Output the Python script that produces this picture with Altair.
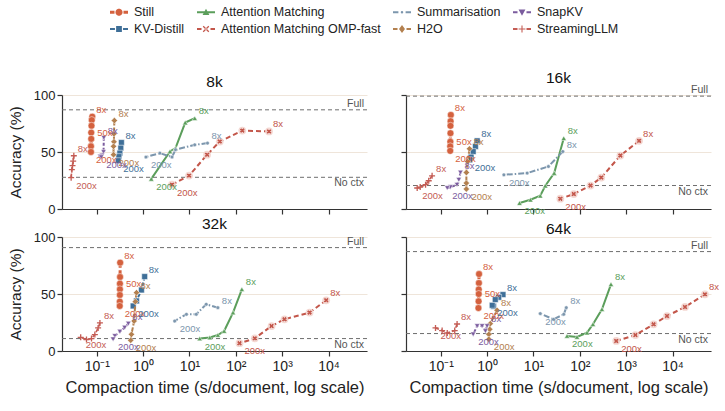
import math
import altair as alt
import pandas as pd

# ---------------- data ----------------
PANELS = ["8k", "16k", "32k", "64k"]
SERIES = ["Still", "KV-Distill", "Attention Matching", "Attention Matching OMP-fast",
          "Summarisation", "H2O", "SnapKV", "StreamingLLM"]

FULL = [87, 99, 90.7, 87.2]
NO_CTX = [27.8, 20.6, 10.9, 15.3]
STILL_50X_INDEX = [3, 4, 2, 3]

# (compaction time in s/document, accuracy %), ordered from 8x to 200x
still_8k = ([0.080, 0.078, 0.077, 0.076, 0.076, 0.075, 0.075], [81, 78, 73, 67, 61.5, 55, 50])
kvdistill_8k = ([0.34, 0.33, 0.315, 0.30, 0.29], [58.3, 53.4, 49, 46, 42.4])
am_8k = ([13, 8.1, 5, 3.8, 1.5], [79.6, 75.8, 53.4, 50.5, 26.4])
omp_8k = ([520, 138, 45, 24, 9.8, 4.2], [68, 68.8, 59.2, 47.6, 29.3, 21.4])
summ_8k = ([24.5, 13, 5, 4.2, 2.3, 1.15], [57.8, 56.3, 52, 45.6, 49, 45.6])
h2o_8k = ([0.24, 0.235, 0.235, 0.23, 0.23], [77.6, 66, 59, 55, 47.6])
snapkv_8k = ([0.142, 0.14, 0.13, 0.118, 0.125], [62.5, 50, 47, 46, 45.5])
streaming_8k = ([0.032, 0.031, 0.030, 0.029, 0.028], [46.7, 42, 38, 34.5, 27.5])

still_16k = ([0.165, 0.163, 0.162, 0.162, 0.161, 0.160, 0.160], [82.5, 77, 73, 66.5, 59, 55, 51])
kvdistill_16k = ([0.61, 0.56, 0.50, 0.45, 0.42], [59.8, 54.8, 50.4, 45.5, 43.1])
am_16k = ([45, 28, 18, 14, 8.6, 5], [62.1, 31.5, 20.4, 11.6, 8.1, 5.2])
omp_16k = ([1900, 750, 290, 170, 74, 38], [59.8, 46.9, 27.6, 20.6, 13.1, 9])
summ_16k = ([43, 21, 7.3, 2.3], [50.4, 37.3, 31.5, 30])
h2o_16k = ([0.417, 0.38, 0.357, 0.357, 0.357], [52.8, 41.6, 32, 22.7, 17.5])
snapkv_16k = ([0.266, 0.245, 0.224, 0.162, 0.138], [32, 25.6, 21.3, 19.2, 18.4])
streaming_16k = ([0.065, 0.055, 0.047, 0.036, 0.031], [29.1, 24.8, 21.3, 19.2, 18.4])

still_32k = ([0.32, 0.318, 0.316, 0.316, 0.315, 0.314, 0.313], [77.5, 64.9, 59.1, 54.1, 49.1, 43.3, 39.5])
kvdistill_32k = ([1.08, 0.92, 0.72, 0.61], [65.3, 53.5, 43.9, 39.5])
am_32k = ([135, 87, 56, 41, 27.5, 16.6], [54.1, 33.7, 17.5, 14, 11.8, 10.9])
omp_32k = ([8900, 3900, 1120, 590, 257, 120], [44.5, 33.7, 27.8, 21.9, 11.1, 6.8])
summ_32k = ([41, 23, 14, 8.6, 4.8], [38, 41, 32.2, 32.2, 26.3])
h2o_32k = ([0.72, 0.68, 0.64, 0.56, 0.54], [51.2, 43.3, 26.3, 14.6, 9.4])
snapkv_32k = ([0.48, 0.40, 0.315, 0.245, 0.225], [24, 20.5, 17, 13.2, 10.3])
streaming_32k = ([0.117, 0.107, 0.091, 0.077, 0.060, 0.045], [24.6, 20.2, 14.4, 10.9, 10, 12])

still_64k = ([0.67, 0.665, 0.66, 0.66, 0.655, 0.65], [67.5, 59.6, 54, 50, 43.6, 37.7])
kvdistill_64k = ([2.2, 1.78, 1.5, 1.38, 1.29], [49.5, 47.1, 45.1, 39.2, 40.1])
am_64k = ([470, 300, 192, 143, 87, 53], [58.5, 36.6, 23.4, 16.1, 12.3, 13.2])
omp_64k = ([50000, 18600, 7600, 3900, 1580, 610], [49.7, 38.6, 30.7, 23.4, 14, 8.8])
summ_64k = ([51, 45, 27, 14], [38, 32.2, 27.8, 32.8])
h2o_64k = ([1.64, 1.17, 1.14, 1.09, 1.09], [35.7, 24, 19, 14.6, 10.3])
snapkv_64k = ([1.0, 0.92, 0.78, 0.61, 0.50], [21.9, 17.5, 21.9, 21.9, 14.6])
streaming_64k = ([0.225, 0.20, 0.138, 0.107, 0.077], [23.7, 17.9, 15.8, 17.9, 20.2])

DATA = {
    "8k": [still_8k, kvdistill_8k, am_8k, omp_8k, summ_8k, h2o_8k, snapkv_8k, streaming_8k],
    "16k": [still_16k, kvdistill_16k, am_16k, omp_16k, summ_16k, h2o_16k, snapkv_16k, streaming_16k],
    "32k": [still_32k, kvdistill_32k, am_32k, omp_32k, summ_32k, h2o_32k, snapkv_32k, streaming_32k],
    "64k": [still_64k, kvdistill_64k, am_64k, omp_64k, summ_64k, h2o_64k, snapkv_64k, streaming_64k],
}

# ---------------- styles ----------------
COLOR = {
    "Still": "#d4613e",
    "KV-Distill": "#3f6f98",
    "Attention Matching": "#5b9e5b",
    "Attention Matching OMP-fast": "#c3564a",
    "Summarisation": "#7c96ad",
    "H2O": "#b3804f",
    "SnapKV": "#7b5c9e",
    "StreamingLLM": "#c45c54",
}
PLUS = "M-1,0 L1,0 M0,-1 L0,1"
STYLE = {
    "Still": dict(shape="circle", size=48, width=3, dash=[5, 2.5], filled=True),
    "KV-Distill": dict(shape="square", size=34, width=2, dash=[4, 2], filled=True),
    "Attention Matching": dict(shape="triangle-up", size=28, width=2, dash=None, filled=True),
    "Attention Matching OMP-fast": dict(shape="cross", size=30, width=2, dash=[5, 3], filled=True, angle=45),
    "Summarisation": dict(shape="circle", size=14, width=2, dash=[6, 2, 1.5, 2], filled=True),
    "H2O": dict(shape="diamond", size=40, width=2, dash=[5, 2], filled=True),
    "SnapKV": dict(shape="triangle-down", size=28, width=2, dash=[3, 2], filled=True),
    "StreamingLLM": dict(shape=PLUS, size=36, width=1.6, dash=[4, 2], filled=False),
}


def poly(pts):
    return "M" + " L".join(f"{x:.3f},{y:.3f}" for x, y in pts) + " Z"


def circ(r, cx=0.0, n=14):
    return poly([(cx + r * math.cos(2 * math.pi * k / n), r * math.sin(2 * math.pi * k / n)) for k in range(n)])


def bar(x0, x1, h):
    return poly([(x0, -h), (x1, -h), (x1, h), (x0, h)])


def segs(h, gap):
    return bar(-1, -gap, h) + " " + bar(gap, 1, h)


XMARK = (poly([(-0.36, -0.26), (0.26, 0.36), (0.36, 0.26), (-0.26, -0.36)]) + " " +
         poly([(-0.36, 0.26), (0.26, -0.36), (0.36, -0.26), (-0.26, 0.36)]))
PLUSMARK = bar(-0.38, 0.38, 0.06) + " " + poly([(-0.06, -0.38), (0.06, -0.38), (0.06, 0.38), (-0.06, 0.38)])
LEGEND_PATH = {
    "Still": segs(0.17, 0.5) + " " + circ(0.4),
    "KV-Distill": segs(0.11, 0.45) + " " + poly([(-0.32, -0.32), (0.32, -0.32), (0.32, 0.32), (-0.32, 0.32)]),
    "Attention Matching": bar(-1, 1, 0.11) + " " + poly([(0, -0.4), (0.38, 0.3), (-0.38, 0.3)]),
    "Attention Matching OMP-fast": segs(0.11, 0.5) + " " + XMARK,
    "Summarisation": segs(0.1, 0.4) + " " + circ(0.14),
    "H2O": segs(0.11, 0.5) + " " + poly([(0, -0.45), (0.33, 0), (0, 0.45), (-0.33, 0)]),
    "SnapKV": segs(0.11, 0.5) + " " + poly([(0, 0.4), (0.38, -0.3), (-0.38, -0.3)]),
    "StreamingLLM": segs(0.11, 0.5) + " " + PLUSMARK,
}

W, H = 305, 114
XDOM = [10 ** -1.75, 10 ** 4.83]
FONT = "Liberation Sans"
XLABEL = ("datum.value < 0.5 ? '10\u207b\u00b9' : datum.value < 5 ? '10\u2070' : "
          "datum.value < 50 ? '10\u00b9' : datum.value < 500 ? '10\u00b2' : "
          "datum.value < 5000 ? '10\u00b3' : '10\u2074'")


def panel(i, show_x, show_y, with_legend=False):
    name = PANELS[i]
    rows = []
    for s, (xs, ys) in zip(SERIES, DATA[name]):
        for k, (xv, yv) in enumerate(zip(xs, ys)):
            rows.append(dict(series=s, x=xv, y=yv, order=k, hex=COLOR[s]))
    df = pd.DataFrame(rows)

    xaxis = alt.Axis(values=[0.1, 1, 10, 100, 1000, 10000], grid=False, labels=show_x,
                     labelExpr=XLABEL, title="Compaction time (s/document, log scale)" if show_x else None,
                     labelFontSize=14, titleFontSize=16.5, titleFontWeight="normal", titlePadding=6,
                     labelPadding=3)
    yaxis = alt.Axis(values=[0, 50, 100], grid=True, labels=show_y,
                     title="Accuracy (%)" if show_y else None, labelFontSize=13,
                     titleFontSize=15.5, titleFontWeight="normal", titlePadding=10)
    xenc = alt.X("x:Q", scale=alt.Scale(type="log", domain=XDOM, nice=False), axis=xaxis)
    yenc = alt.Y("y:Q", scale=alt.Scale(domain=[0, 100], nice=False), axis=yaxis)

    ref = pd.DataFrame({"y": [FULL[i], NO_CTX[i]], "label": ["Full", "No ctx"]})
    layers = [
        alt.Chart(ref).mark_rule(color="#6e6e6e", strokeDash=[4, 3], strokeWidth=1).encode(y=yenc),
        alt.Chart(ref.iloc[[0]]).mark_text(align="right", baseline="bottom", dy=-1, fontSize=10.5,
                                           color="#555555").encode(x=alt.value(W - 3), y=yenc, text="label:N"),
        alt.Chart(ref.iloc[[1]]).mark_text(align="right", baseline="top", dy=1, fontSize=10.5,
                                           color="#555555").encode(x=alt.value(W - 3), y=yenc, text="label:N"),
    ]

    for s in SERIES:
        st = STYLE[s]
        sub = alt.Chart(df[df.series == s])
        lk = dict(color=COLOR[s], strokeWidth=st["width"])
        if st["dash"]:
            lk["strokeDash"] = st["dash"]
        layers.append(sub.mark_line(**lk).encode(x=xenc, y=yenc, order="order:Q"))
        if s == "Attention Matching OMP-fast":
            layers.append(sub.mark_point(shape="circle", filled=True, size=60, fill="#f3d3cc",
                                         opacity=0.9).encode(x=xenc, y=yenc))
        pk = dict(shape=st["shape"], size=st["size"])
        if st["filled"]:
            pk.update(filled=True, fill=COLOR[s], stroke="white", strokeWidth=0.5, opacity=1)
        else:
            pk.update(filled=False, stroke=COLOR[s], strokeWidth=1.3, opacity=1)
        if "angle" in st:
            pk["angle"] = st["angle"]
        layers.append(sub.mark_point(**pk).encode(x=xenc, y=yenc))

    # ratio labels: first point 8x, last point 200x, Still also 50x
    first = df.groupby("series", sort=False).head(1)
    last = df.groupby("series", sort=False).tail(1)
    mid = df[(df.series == "Still") & (df.order == STILL_50X_INDEX[i])]
    for lab_df, text, dx, dy in [(first, "8x", 4, -7), (last, "200x", 5, 8), (mid, "50x", 6, 0)]:
        d = lab_df.assign(lab=text)
        layers.append(alt.Chart(d).mark_text(align="left", baseline="middle", dx=dx, dy=dy,
                                             fontSize=9.5).encode(
            x=xenc, y=yenc, text="lab:N", color=alt.Color("hex:N", scale=None)))

    if with_legend:
        leg = alt.Legend(title=None, orient="none", legendX=48, legendY=-92, columns=4,
                         symbolSize=324, symbolOpacity=1, symbolStrokeWidth=0, labelFontSize=12.5,
                         columnPadding=12, rowPadding=1, labelOffset=6, labelColor="#222222",
                         labelFont=FONT)
        ldf = pd.DataFrame({"series": SERIES, "x": [1.0] * 8, "y": [50.0] * 8})
        layers.append(alt.Chart(ldf).mark_point(filled=True, opacity=0).encode(
            x=xenc, y=yenc,
            color=alt.Color("series:N", scale=alt.Scale(domain=SERIES,
                                                        range=[COLOR[s] for s in SERIES]), legend=leg),
            shape=alt.Shape("series:N", scale=alt.Scale(domain=SERIES,
                                                        range=[LEGEND_PATH[s] for s in SERIES]), legend=leg),
        ))

    return alt.layer(*layers).properties(
        width=W, height=H,
        title=alt.TitleParams(name, fontSize=15.5, fontWeight="normal", offset=-1, color="#111111"))


p8 = panel(0, False, True, with_legend=True)
p16 = panel(1, False, False)
p32 = panel(2, True, True)
p64 = panel(3, True, False)

chart = alt.concat(p8, p16, p32, p64, columns=2, spacing={"row": 28, "column": 39},
                   bounds="flush").properties(
    padding={"left": 8, "top": 3, "right": 0, "bottom": 0}
).configure(font=FONT).configure_view(strokeWidth=0).configure_axis(
    domainColor="#333333", tickColor="#333333", labelColor="#222222", titleColor="#222222",
    tickSize=5, domainWidth=1.2, tickWidth=1.2, gridColor="#efe5da", gridWidth=1,
    labelFont=FONT, titleFont=FONT
).configure_title(font=FONT)

chart.save("out.html", embed_options={"renderer": "svg", "actions": False})
